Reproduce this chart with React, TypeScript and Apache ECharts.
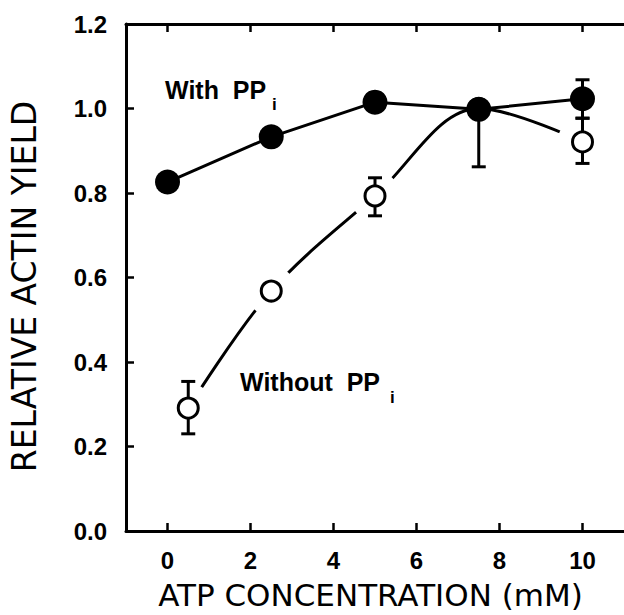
import React, { useEffect, useRef } from "react";
import * as echarts from "echarts";

// x tick values
const xTicks = [0, 2, 4, 6, 8, 10];

// With PPi (filled circles)
const withX = [0, 2.5, 5, 7.5, 10];
const withY = [0.826, 0.933, 1.015, 0.998, 1.023];
const withErrX = [7.5, 10];
const withErrLow = [0.862, 0.977];
const withErrHigh = [0.998, 1.068];

// Without PPi (open circles)
const withoutX = [0.5, 2.5, 5, 7.5, 10];
const withoutY = [0.291, 0.568, 0.793, 1.0, 0.921];
const withoutErrX = [0.5, 5, 10];
const withoutErrLow = [0.23, 0.746, 0.87];
const withoutErrHigh = [0.354, 0.836, 0.977];

const FONT = "'Liberation Sans', Arial, sans-serif";
const TITLE_FONT = "'DejaVu Sans', sans-serif";

const errRender = (params: any, api: any) => {
  const x = api.value(0);
  const lo = api.value(1);
  const hi = api.value(2);
  const p1 = api.coord([x, hi]);
  const p2 = api.coord([x, lo]);
  const w = 7;
  const style = { stroke: "#000", lineWidth: 3, fill: null };
  return {
    type: "group",
    children: [
      { type: "line", shape: { x1: p1[0], y1: p1[1], x2: p2[0], y2: p2[1] }, style },
      { type: "line", shape: { x1: p1[0] - w, y1: p1[1], x2: p1[0] + w, y2: p1[1] }, style },
      { type: "line", shape: { x1: p2[0] - w, y1: p2[1], x2: p2[0] + w, y2: p2[1] }, style },
    ],
  };
};

export default function App() {
  const ref = useRef<HTMLDivElement>(null);
  useEffect(() => {
    if (!ref.current) return;
    const chart = echarts.init(ref.current, null, { renderer: "svg" });
    const withData = withX.map((x, i) => [x, withY[i]]);
    const withoutData = withoutX.map((x, i) => [x, withoutY[i]]);
    const haloData = withoutData.filter((d) => d[0] !== 7.5);
    const withErrData = withErrX.map((x, i) => [x, withErrLow[i], withErrHigh[i]]);
    const withoutErrData = withoutErrX.map((x, i) => [x, withoutErrLow[i], withoutErrHigh[i]]);

    const axisLine = { show: true, onZero: false, lineStyle: { color: "#000", width: 3 } };
    const axisTick = { show: true, inside: true, length: 8, lineStyle: { color: "#000", width: 2.5 } };

    chart.setOption({
      animation: false,
      backgroundColor: "#fff",
      grid: { left: 125, top: 24, width: 509, height: 508, containLabel: false },
      xAxis: [
        {
          type: "value",
          position: "bottom",
          min: -1,
          max: 11,
          axisLine,
          axisTick: { ...axisTick, customValues: xTicks },
          axisLabel: {
            customValues: xTicks,
            color: "#000",
            fontSize: 24,
            fontWeight: "bold",
            fontFamily: FONT,
            margin: 17,
          },
          splitLine: { show: false },
          name: "ATP CONCENTRATION (mM)",
          nameLocation: "middle",
          nameGap: 48,
          nameTextStyle: {
            color: "#000",
            fontSize: 31,
            fontFamily: TITLE_FONT,
            padding: [0, 9, 0, 0],
          },
        },
        {
          type: "value",
          position: "top",
          min: -1,
          max: 11,
          axisLine,
          axisTick: { ...axisTick, customValues: xTicks },
          axisLabel: { show: false },
          splitLine: { show: false },
        },
      ],
      yAxis: {
        type: "value",
        min: 0,
        max: 1.2,
        interval: 0.2,
        axisLine,
        axisTick,
        axisLabel: {
          color: "#000",
          fontSize: 24,
          fontWeight: "bold",
          fontFamily: FONT,
          margin: 19,
          formatter: (v: number) => v.toFixed(1),
        },
        splitLine: { show: false },
        name: "RELATIVE ACTIN YIELD",
        nameLocation: "middle",
        nameGap: 85,
        nameRotate: 90,
        nameTextStyle: {
          color: "#000",
          fontSize: 33,
          fontFamily: TITLE_FONT,
          padding: [0, 18, 0, 0],
        },
      },
      graphic: [
        {
          type: "text",
          x: 165,
          y: 90,
          style: { text: "With  PP", fill: "#000", font: `bold 25px ${FONT}`, textVerticalAlign: "middle" },
          z: 10,
        },
        {
          type: "text",
          x: 272,
          y: 104,
          style: { text: "i", fill: "#000", font: `bold 17px ${FONT}`, textVerticalAlign: "middle" },
          z: 10,
        },
        {
          type: "text",
          x: 240,
          y: 382,
          style: { text: "Without  PP", fill: "#000", font: `bold 25px ${FONT}`, textVerticalAlign: "middle" },
          z: 10,
        },
        {
          type: "text",
          x: 390,
          y: 397,
          style: { text: "i", fill: "#000", font: `bold 17px ${FONT}`, textVerticalAlign: "middle" },
          z: 10,
        },
      ],
      series: [
        {
          name: "Without PPi curve",
          type: "line",
          data: withoutData,
          smooth: 0.35,
          showSymbol: false,
          symbol: "none",
          lineStyle: { color: "#000", width: 3 },
          z: 1,
          silent: true,
        },
        {
          name: "halo",
          type: "scatter",
          data: haloData,
          symbol: "circle",
          symbolSize: 50,
          itemStyle: { color: "#fff", opacity: 1 },
          z: 2,
          silent: true,
        },
        {
          name: "Without PPi err",
          type: "custom",
          data: withoutErrData,
          renderItem: errRender,
          encode: { x: 0, y: [1, 2] },
          z: 3,
        },
        {
          name: "Without PPi",
          type: "scatter",
          data: withoutData,
          symbol: "circle",
          symbolSize: 20,
          itemStyle: { color: "#fff", borderColor: "#000", borderWidth: 3, opacity: 1 },
          z: 4,
        },
        {
          name: "With PPi err",
          type: "custom",
          data: withErrData,
          renderItem: errRender,
          encode: { x: 0, y: [1, 2] },
          z: 5,
        },
        {
          name: "With PPi",
          type: "line",
          data: withData,
          symbol: "circle",
          symbolSize: 25,
          showSymbol: true,
          lineStyle: { color: "#000", width: 3 },
          itemStyle: { color: "#000", borderWidth: 0 },
          z: 6,
        },
      ],
    });
    return () => chart.dispose();
  }, []);
  return (
    <div
      ref={ref}
      style={{ position: "fixed", left: 0, top: 0, width: 624, height: 615, background: "#fff" }}
    />
  );
}
